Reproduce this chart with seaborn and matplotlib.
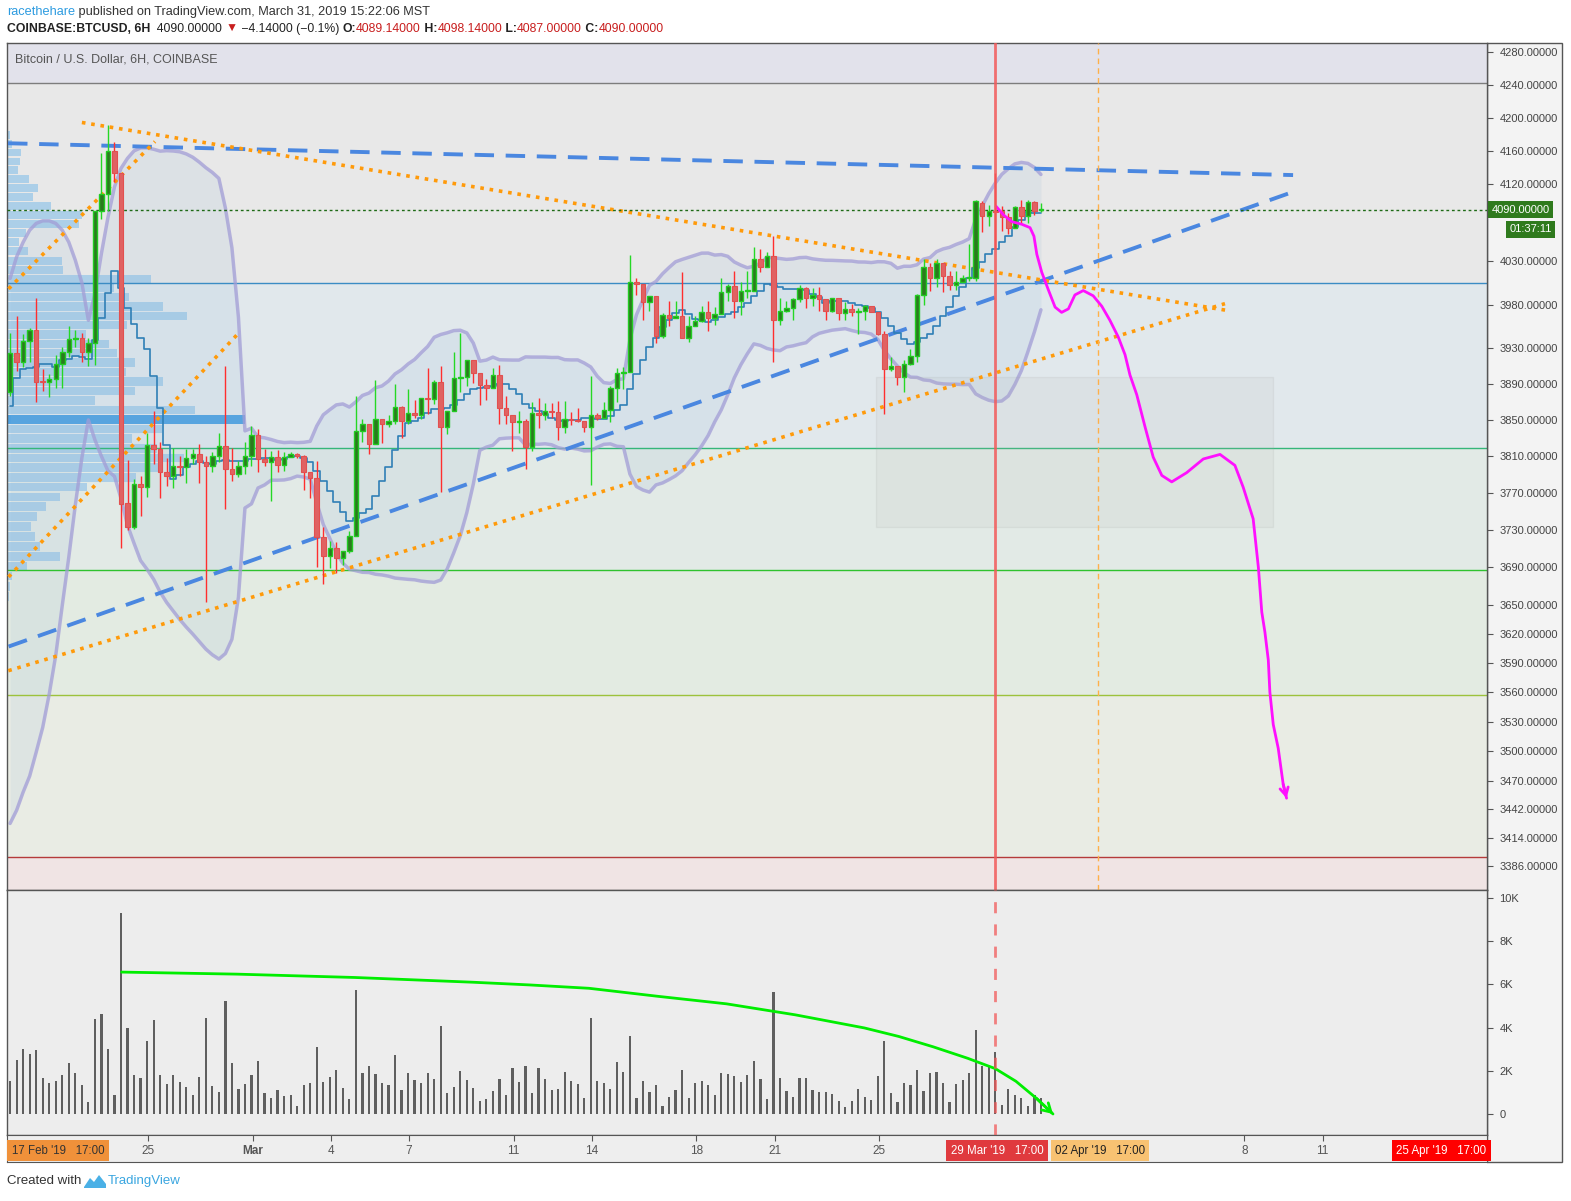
import numpy as np
import pandas as pd
import matplotlib
matplotlib.use('Agg')
import matplotlib.pyplot as plt
import matplotlib.transforms as mtransforms
from matplotlib.patches import Rectangle, Polygon
from matplotlib.ticker import FixedLocator, NullLocator, FuncFormatter
import seaborn as sns

# ---- 6H candles (first candle 19 Feb 17:00) ----
opens = [3881, 3925, 3915, 3939, 3951, 3893, 3892, 3896, 3913, 3926,
         3941, 3942, 3926, 3936, 4089, 4108, 4160, 4134, 3759, 3733,
         3780, 3776, 3822, 3818, 3793, 3788, 3799, 3798, 3808, 3813,
         3804, 3799, 3810, 3821, 3796, 3791, 3799, 3810, 3833, 3807,
         3804, 3809, 3800, 3809, 3812, 3810, 3793, 3786, 3722, 3702,
         3711, 3700, 3707, 3724, 3838, 3845, 3823, 3851, 3846, 3849,
         3864, 3849, 3858, 3855, 3874, 3873, 3892, 3842, 3860, 3897,
         3898, 3917, 3902, 3889, 3885, 3900, 3863, 3856, 3848, 3849,
         3820, 3858, 3856, 3860, 3859, 3842, 3851, 3850, 3849, 3842,
         3856, 3852, 3861, 3885, 3902, 3903, 4006, 4003, 3983, 3990,
         3944, 3968, 3965, 3967, 3942, 3956, 3961, 3971, 3965, 3969,
         3994, 4001, 3984, 3995, 3996, 4033, 4023, 4036, 3962, 3973,
         3976, 3986, 3999, 3987, 3991, 3986, 3973, 3987, 3970, 3975,
         3971, 3973, 3978, 3971, 3946, 3907, 3910, 3898, 3912, 3921,
         3991, 4023, 4010, 4028, 4013, 4002, 4006, 4010, 4011, 4098,
         4083, 4089, 4088, 4082, 4069, 4093, 4083, 4099, 4089.14]
highs = [3947, 3967, 3946, 3953, 3988, 3907, 3901, 3923, 3932, 3956,
         3951, 3948, 3942, 4089, 4157, 4191, 4171, 4134, 3806, 3785,
         3788, 3836, 3860, 3826, 3808, 3819, 3810, 3818, 3818, 3823,
         3810, 3815, 3836, 3910, 3819, 3805, 3826, 3843, 3840, 3818,
         3816, 3817, 3815, 3815, 3814, 3811, 3793, 3805, 3733, 3718,
         3717, 3708, 3729, 3877, 3851, 3845, 3894, 3851, 3855, 3890,
         3866, 3884, 3872, 3874, 3908, 3894, 3910, 3860, 3926, 3947,
         3917, 3917, 3902, 3896, 3908, 3911, 3877, 3856, 3860, 3851,
         3870, 3874, 3869, 3869, 3871, 3871, 3859, 3863, 3849, 3899,
         3858, 3870, 3888, 3908, 3909, 4037, 4010, 4003, 3990, 3990,
         3970, 3984, 3984, 4017, 3967, 3967, 3978, 3984, 3977, 4011,
         4003, 4018, 4006, 4018, 4046, 4044, 4041, 4059, 3987, 3984,
         3987, 4002, 4000, 3999, 4000, 3986, 3987, 3987, 3983, 3981,
         3976, 3980, 3978, 3972, 3950, 3920, 3910, 3917, 3929, 3992,
         4032, 4028, 4032, 4028, 4018, 4019, 4014, 4050, 4101, 4100,
         4096, 4134, 4095, 4086, 4094, 4101, 4101, 4100, 4098.14]
lows = [3877, 3905, 3909, 3915, 3870, 3882, 3876, 3886, 3886, 3920,
        3932, 3915, 3910, 3911, 4079, 4089, 4123, 3711, 3730, 3731,
        3745, 3766, 3802, 3764, 3777, 3775, 3788, 3781, 3802, 3781,
        3653, 3793, 3804, 3753, 3783, 3787, 3791, 3799, 3793, 3799,
        3761, 3793, 3794, 3809, 3808, 3773, 3764, 3691, 3672, 3689,
        3684, 3693, 3705, 3724, 3826, 3812, 3823, 3825, 3842, 3846,
        3830, 3846, 3852, 3851, 3857, 3868, 3771, 3835, 3860, 3881,
        3888, 3891, 3867, 3872, 3885, 3846, 3846, 3816, 3836, 3796,
        3816, 3841, 3850, 3852, 3828, 3836, 3844, 3848, 3837, 3779,
        3850, 3852, 3848, 3870, 3884, 3903, 3991, 3962, 3973, 3936,
        3942, 3956, 3965, 3942, 3937, 3956, 3960, 3950, 3957, 3969,
        3984, 3965, 3968, 3988, 3996, 4017, 4023, 3915, 3957, 3971,
        3962, 3983, 3976, 3978, 3973, 3962, 3971, 3962, 3962, 3967,
        3946, 3962, 3971, 3945, 3857, 3905, 3889, 3881, 3911, 3915,
        3979, 3995, 4000, 3994, 3997, 3997, 4006, 4007, 4007, 4064,
        4071, 4044, 4065, 4062, 4068, 4075, 4075, 4084, 4087]
closes = [3925, 3915, 3939, 3951, 3892, 3892, 3896, 3913, 3926, 3941,
          3942, 3926, 3936, 4089, 4108, 4160, 4134, 3758, 3733, 3780,
          3776, 3822, 3818, 3793, 3788, 3799, 3798, 3808, 3813, 3804,
          3799, 3810, 3821, 3796, 3791, 3799, 3810, 3833, 3807, 3804,
          3809, 3800, 3809, 3812, 3810, 3793, 3786, 3722, 3702, 3711,
          3700, 3707, 3724, 3838, 3845, 3823, 3851, 3846, 3849, 3864,
          3849, 3858, 3855, 3874, 3873, 3892, 3842, 3860, 3897, 3898,
          3917, 3902, 3889, 3885, 3900, 3863, 3856, 3848, 3849, 3820,
          3858, 3856, 3860, 3859, 3842, 3851, 3850, 3849, 3842, 3856,
          3852, 3861, 3885, 3902, 3903, 4006, 4003, 3983, 3990, 3944,
          3968, 3965, 3967, 3942, 3956, 3961, 3971, 3965, 3969, 3994,
          4001, 3984, 3995, 3996, 4033, 4023, 4036, 3962, 3973, 3976,
          3986, 3999, 3987, 3991, 3986, 3973, 3987, 3970, 3975, 3971,
          3973, 3978, 3971, 3946, 3907, 3910, 3898, 3912, 3921, 3991,
          4023, 4010, 4028, 4013, 4002, 4006, 4010, 4011, 4100, 4083,
          4089, 4087, 4082, 4069, 4093, 4083, 4099, 4088, 4090]
volumes = [1530, 2520, 3030, 2800, 2940, 1670, 1440, 1530, 1810, 2380,
           1910, 1350, 550, 4390, 4630, 3030, 880, 9300, 3970, 1810,
           1670, 3360, 4350, 1810, 1390, 1810, 1490, 1250, 880, 1720,
           4440, 1300, 1020, 5240, 2380, 1160, 1390, 1810, 2470, 970,
           740, 1110, 830, 880, 360, 1350, 1440, 3080, 1490, 1720,
           2050, 1200, 690, 5760, 1910, 2240, 1860, 1440, 1350, 2710,
           1110, 1910, 1580, 1440, 1910, 1630, 4070, 970, 1250, 2000,
           1580, 1200, 590, 690, 1060, 1630, 880, 2140, 1490, 2240,
           990, 2140, 1610, 1130, 1180, 1940, 1510, 1370, 750, 4430,
           1510, 1420, 1180, 2420, 1940, 3620, 750, 1510, 1040, 1320,
           370, 800, 1130, 2040, 750, 1420, 1510, 1320, 890, 1900,
           1850, 1750, 1470, 1800, 2470, 1610, 700, 5630, 1660, 1080,
           800, 1660, 1660, 1130, 1040, 1040, 940, 610, 320, 610,
           1180, 800, 650, 1750, 3380, 990, 560, 1420, 1320, 2040,
           1080, 1900, 1940, 1420, 560, 1370, 1560, 1900, 3910, 2230,
           2230, 2850, 410, 1180, 890, 750, 370, 890, 750]

# Bollinger band / step MA values for the first candles (history is off-screen)
bb_up_head = [4010, 4035, 4052, 4066, 4074, 4077, 4077, 4074, 4066, 4052,
              4031, 4005, 3962, 3992, 4039, 4081, 4117, 4139, 4151]
bb_lo_head = [3428, 3441, 3459, 3475, 3499, 3524, 3558, 3598, 3650, 3701,
              3757, 3808, 3850, 3828, 3810, 3794, 3788, 3764, 3735]
ma_head = [3866, 3897, 3907, 3908, 3909, 3912, 3912, 3909]

# visible-range volume profile, rows from 4185 down to 3655
vp_top, vp_bottom = 4185, 3655
vp_rows = [3, 5, 14, 13, 11, 22, 31, 26, 44, 75,
           72, 19, 12, 21, 55, 56, 144, 107, 122, 156,
           180, 120, 79, 102, 110, 128, 119, 156, 128, 88,
           188, 238, 155, 125, 150, 177, 155, 129, 80, 53,
           39, 30, 24, 28, 33, 53, 20, 5, 3, 2]
vp_poc = 31

# hand-drawn projection (days from 1 Mar, price)
path_day = [28.49, 28.77, 29.09, 29.47, 29.79, 29.94, 30.05, 30.24, 30.49, 30.75,
            31.00, 31.26, 31.51, 31.83, 32.21, 32.54, 32.85, 33.17, 33.43, 33.62,
            33.88, 34.20, 34.51, 34.84, 35.22, 35.79, 36.43, 37.07, 37.64, 37.96,
            38.34, 38.54, 38.67, 38.79, 38.92, 38.98, 39.11, 39.30, 39.49, 39.62]
path_price = [4094, 4084, 4076, 4073, 4069, 4059, 4038, 4017, 3997, 3977,
              3971, 3975, 3991, 3996, 3990, 3978, 3962, 3943, 3923, 3900,
              3878, 3842, 3809, 3789, 3782, 3792, 3807, 3812, 3800, 3776,
              3742, 3690, 3643, 3622, 3593, 3560, 3527, 3503, 3467, 3453]

# volume trend curve
vcurve_day = [-5.02, -0.61, 3.92, 8.45, 10.62, 12.89, 15.52, 18.16, 20.80,
              23.44, 24.76, 26.08, 27.40, 28.46, 29.25, 30.04, 30.67]
vcurve_vol = [6570, 6475, 6320, 6100, 5975, 5820, 5450, 5100, 4590,
              3985, 3590, 3110, 2580, 2100, 1515, 720, 0]

# drawings: (day0, price0, day1, price1)
blue_lines = [(-9.37, 4169, 39.87, 4131), (-9.35, 3607, 39.95, 4112)]
orange_lines = [(-6.54, 4194, 37.39, 3973), (-9.36, 3582, 37.26, 3981),
                (-9.35, 3998, -3.74, 4171), (-9.35, 3680, -0.61, 3945)]
zones = [(4242, 4400, '#e2e2eb'), (4005, 4242, '#e8e8e8'), (3819, 4005, '#e1e8ec'),
         (3687, 3819, '#e2eae6'), (3557, 3687, '#e3ebe2'), (3395, 3557, '#e9ece4'),
         (3300, 3395, '#f0e4e4')]
levels = [(4242, '#7d7d7d'), (4005, '#3b8cc4'), (3819, '#35b67a'), (3687, '#2fc22f'),
          (3557, '#9cc23c'), (3395, '#b53a3a')]
box_days, box_prices = (23.89, 39.10), (3733, 3898)
red_day, orange_day = 28.46, 32.39

price_ticks = [4280, 4240, 4200, 4160, 4120, 4030, 3980, 3930, 3890, 3850, 3810, 3770,
               3730, 3690, 3650, 3620, 3590, 3560, 3530, 3500, 3470, 3442, 3414, 3386]
date_ticks = [-4, 0, 3, 6, 10, 13, 17, 20, 24, 38, 41]
date_labels = ['25', 'Mar', '4', '7', '11', '14', '18', '21', '25', '8', '11']

# ---- derived series ----
times = pd.date_range('2019-02-19 17:00', periods=len(closes), freq='6h')
tday = ((times - pd.Timestamp('2019-03-01')) / pd.Timedelta('1D')).to_numpy()
o = np.array(opens); h = np.array(highs); l = np.array(lows); c = np.array(closes)
cs = pd.Series(closes, dtype=float)
mid = cs.rolling(20).mean()
sd = cs.rolling(20).std(ddof=0)
bb_up = (mid + 2 * sd).to_numpy()
bb_lo = (mid - 2 * sd).to_numpy()
bb_up[:19] = bb_up_head
bb_lo[:19] = bb_lo_head
ma = cs.rolling(9).mean().to_numpy()
ma[:8] = ma_head

# ---- figure ----
sns.set_style('white')
plt.rcParams['font.family'] = ['Liberation Sans', 'DejaVu Sans']
plt.rcParams['patch.edgecolor'] = 'none'
W, H = 1571, 1201
fig = plt.figure(figsize=(W / 100, H / 100), dpi=100)
fig.patch.set_facecolor('white')
XL, XR = -9.41, 47.30


def fx(px):
    return px / W


def fy(py):
    return 1 - py / H


ax = fig.add_axes([fx(7), fy(890), fx(1480), 847 / H])
ax_v = fig.add_axes([fx(7), fy(1135), fx(1480), 245 / H])
ax_t = fig.add_axes([fx(7), fy(1162), fx(1480), 27 / H])

fig.patches.append(Rectangle((fx(1487), fy(1162)), fx(75), 1119 / H, transform=fig.transFigure,
                             fc='#f3f3f3', ec='#555555', lw=1, zorder=-1))

# price panel
ax.set_yscale('log')
ax.set_xlim(XL, XR)
ax.set_ylim(3363, 4291)
for lo_, hi_, col in zones:
    ax.axhspan(lo_, hi_, color=col, lw=0, zorder=0)
for lev, col in levels:
    ax.axhline(lev, color=col, lw=1, zorder=2)

trans = mtransforms.blended_transform_factory(ax.transAxes, ax.transData)
edges = np.linspace(vp_top, vp_bottom, len(vp_rows) + 1)
vmax = max(vp_rows)
for i, v in enumerate(vp_rows):
    top, bot = edges[i], edges[i + 1]
    col = '#3f9be0' if i == vp_poc else '#a6cde8'
    ax.add_patch(Rectangle((0, bot), v / vmax * 0.161, (top - bot) * 0.88, transform=trans,
                           fc=col, ec='none', alpha=0.9, zorder=1))

ax.fill_between(tday, bb_lo, bb_up, color='#8fb3d6', alpha=0.13, lw=0, zorder=1.5)
sns.lineplot(x=tday, y=bb_up, ax=ax, color='#a29dd6', lw=2.5, alpha=0.75,
             estimator=None, sort=False, legend=False, zorder=2)
sns.lineplot(x=tday, y=bb_lo, ax=ax, color='#a29dd6', lw=2.5, alpha=0.75,
             estimator=None, sort=False, legend=False, zorder=2)

ax.add_patch(Rectangle((box_days[0], box_prices[0]), box_days[1] - box_days[0],
                       box_prices[1] - box_prices[0], fc='#b4b4b4', alpha=0.13,
                       ec='#9a9a9a', lw=1, zorder=2))

for d0, p0, d1, p1 in blue_lines:
    ax.plot([d0, d1], [p0, p1], color='#4a87e0', lw=2.8, dashes=(5, 3),
            dash_capstyle='butt', zorder=3)
for d0, p0, d1, p1 in orange_lines:
    ax.plot([d0, d1], [p0, p1], color='#ff9a0a', lw=2.6, dashes=(1, 1.6),
            dash_capstyle='butt', zorder=3)

ax.plot(tday, ma, drawstyle='steps-mid', color='#2f7fb6', lw=1.2, zorder=3)
ax.axhline(4090, color='#1e6a16', lw=1, dashes=(2, 2), zorder=3)

up = c >= o
ax.vlines(tday[up], l[up], h[up], color='#25d825', lw=1, zorder=4)
ax.vlines(tday[~up], l[~up], h[~up], color='#ff2e2e', lw=1, zorder=4)
body = np.maximum(np.abs(c - o), 1.2)
ax.bar(tday[up], body[up], bottom=np.minimum(o, c)[up], width=0.172,
       color='#2b7a1f', edgecolor='#22cc22', lw=1, zorder=4.5)
ax.bar(tday[~up], body[~up], bottom=np.minimum(o, c)[~up], width=0.172,
       color='#e06262', edgecolor='#e25050', lw=0.8, zorder=4.5)

ax.plot(path_day, path_price, color='#ff10ff', lw=2, zorder=5)
ax.annotate('', xy=(path_day[-1], path_price[-1]), xytext=(path_day[-2], path_price[-2]),
            arrowprops=dict(arrowstyle='->,head_length=0.55,head_width=0.3', color='#ff10ff',
                            lw=2, shrinkA=0, shrinkB=0), zorder=5)

ax.axvline(red_day, color='#f25a5a', lw=2, alpha=0.85, zorder=6)
ax.axvline(orange_day, color='#ffb04a', lw=1, dashes=(4, 3), zorder=3)

ax.yaxis.tick_right()
ax.yaxis.set_major_locator(FixedLocator(price_ticks))
ax.yaxis.set_minor_locator(NullLocator())
ax.yaxis.set_major_formatter(FuncFormatter(lambda v, p: f'{v:.5f}'))
ax.tick_params(axis='y', length=4, color='#555555', labelsize=8, labelcolor='#444444', pad=5)
ax.tick_params(axis='x', bottom=False, labelbottom=False)
ax.set_xlabel('')
ax.set_ylabel('')
for s in ax.spines.values():
    s.set_color('#555555')
    s.set_linewidth(1)

ax.text(0.0054, 0.98, 'Bitcoin / U.S. Dollar, 6H, COINBASE', transform=ax.transAxes,
        fontsize=9, color='#555555', va='center', ha='left', zorder=7)
ax.text(1.0032, 4090, '4090.00000', transform=trans, fontsize=8, color='white',
        va='center', ha='left', clip_on=False, zorder=8,
        bbox=dict(boxstyle='square,pad=0.32', fc='#2f7a1d', ec='none'))
ax.text(1.0150, 4067, '01:37:11', transform=trans, fontsize=8, color='white',
        va='center', ha='left', clip_on=False, zorder=8,
        bbox=dict(boxstyle='square,pad=0.32', fc='#2f7a1d', ec='none'))

# volume panel
ax_v.set_facecolor('#ededed')
ax_v.set_xlim(XL, XR)
ax_v.set_ylim(-972, 10370)
ax_v.bar(tday, volumes, width=0.085, color='#5f5f5f', edgecolor='none', lw=0, zorder=2)
ax_v.plot(vcurve_day, vcurve_vol, color='#00ee00', lw=2, zorder=3)
ax_v.annotate('', xy=(vcurve_day[-1], vcurve_vol[-1]), xytext=(vcurve_day[-2], vcurve_vol[-2]),
              arrowprops=dict(arrowstyle='->,head_length=0.6,head_width=0.35', color='#00ee00',
                              lw=2, shrinkA=0, shrinkB=0), zorder=3)
ax_v.axvline(red_day, color='#f25a5a', lw=2, alpha=0.75, dashes=(4, 4), zorder=4)
ax_v.yaxis.tick_right()
ax_v.set_yticks([0, 2000, 4000, 6000, 8000, 10000])
ax_v.set_yticklabels(['0', '2K', '4K', '6K', '8K', '10K'])
ax_v.tick_params(axis='y', length=4, color='#555555', labelsize=8, labelcolor='#444444', pad=5)
ax_v.tick_params(axis='x', bottom=False, labelbottom=False)
for s in ax_v.spines.values():
    s.set_color('#555555')
    s.set_linewidth(1)

# time axis strip
ax_t.set_facecolor('#eeeeee')
ax_t.set_xlim(XL, XR)
ax_t.set_ylim(0, 1)
ax_t.set_yticks([])
ax_t.set_xticks(date_ticks)
ax_t.set_xticklabels([])
ax_t.tick_params(axis='x', top=True, bottom=False, direction='in', length=4,
                 color='#555555', labelbottom=False)
for s in ax_t.spines.values():
    s.set_color('#555555')
for d, lab in zip(date_ticks, date_labels):
    ax_t.text(d, 0.42, lab, fontsize=8.5, color='#555555', ha='center', va='center',
              fontweight='bold' if lab == 'Mar' else 'normal')
marks = [(-7.45, "17 Feb '19   17:00", '#f0913a', '#333333'),
         (28.53, "29 Mar '19   17:00", '#e03a3e', 'white'),
         (32.47, "02 Apr '19   17:00", '#f8c272', '#222222'),
         (45.55, "25 Apr '19   17:00", '#ff0000', 'white')]
for d, txt, bg, fg in marks:
    ax_t.text(d, 0.42, txt, fontsize=8.3, color=fg, ha='center', va='center', zorder=5,
              bbox=dict(boxstyle='square,pad=0.38', fc=bg, ec='none'))

# header / footer text
ident = mtransforms.IdentityTransform()
renderer = fig.canvas.get_renderer()


def write_runs(x, ytop, runs, size):
    for txt, col, wt in runs:
        t = fig.text(x, H - ytop, txt, color=col, fontsize=size, fontweight=wt,
                     ha='left', va='center', transform=ident)
        x += t.get_window_extent(renderer=renderer).width


write_runs(7, 12, [('racethehare', '#2c9be0', 'normal'),
                   (' published on TradingView.com, March 31, 2019 15:22:06 MST', '#333333', 'normal')], 9.2)
write_runs(7, 29, [('COINBASE:BTCUSD, 6H', '#222222', 'bold'),
                   ('  4090.00000 ', '#222222', 'normal'),
                   ('▼', '#c81e1e', 'normal'),
                   (' \u22124.14000 (\u22120.1%) ', '#222222', 'normal'),
                   ('O:', '#222222', 'bold'), ('4089.14000', '#c81e1e', 'normal'),
                   (' H:', '#222222', 'bold'), ('4098.14000', '#c81e1e', 'normal'),
                   (' L:', '#222222', 'bold'), ('4087.00000', '#c81e1e', 'normal'),
                   (' C:', '#222222', 'bold'), ('4090.00000', '#c81e1e', 'normal')], 8.8)
write_runs(7, 1181, [('Created with ', '#333333', 'normal')], 9.5)
fig.patches.append(Polygon([(84, H - 1187), (90, H - 1178), (94, H - 1182), (99, H - 1175),
                            (106, H - 1184), (106, H - 1188), (84, H - 1188)],
                           closed=True, transform=ident, fc='#4ab0e6', ec='none'))
write_runs(108, 1181, [('TradingView', '#3aa6e0', 'normal')], 9.5)

fig.savefig('out.png', dpi=100)
